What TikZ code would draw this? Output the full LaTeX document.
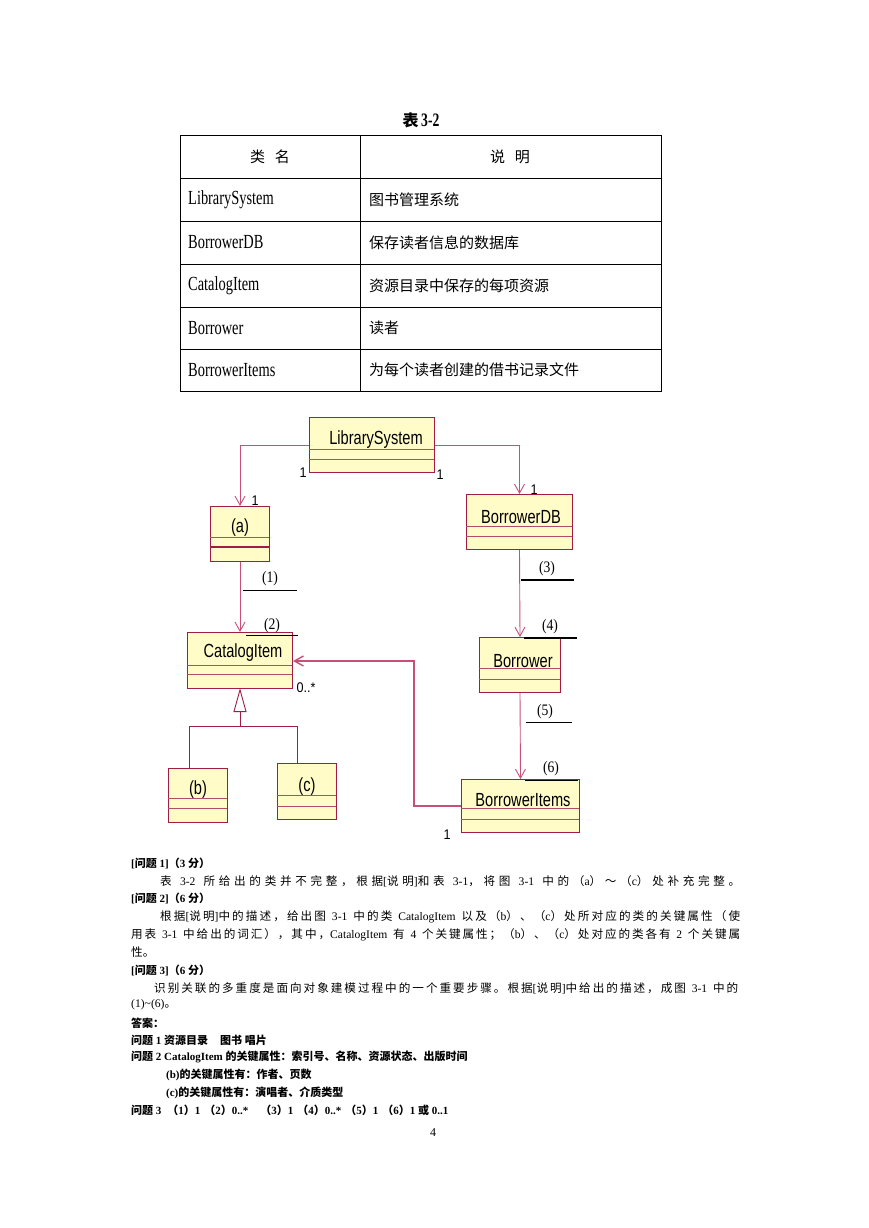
\documentclass[tikz,border=0pt]{standalone}
\usepackage{fontspec}
\usetikzlibrary{arrows.meta}
\setmainfont{Liberation Serif}
\newfontfamily\cjk{Noto Sans CJK SC}
\newfontfamily\narrowserif{Liberation Serif}[FakeStretch=0.72]
\newfontfamily\umlfont{Liberation Sans}[FakeStretch=0.77]
\newfontfamily\multfont{Liberation Sans}[FakeStretch=0.9]
\newfontfamily\labserif{Liberation Serif}[FakeStretch=0.85]
\def\savedfnt{}
\newif\ifincjk
\XeTeXinterchartokenstate=1
\newXeTeXintercharclass\CJKcls
\newcount\cjkc
\def\setcjkrange#1#2{\cjkc=#1 \loop\XeTeXcharclass\cjkc=\CJKcls\ifnum\cjkc<#2 \advance\cjkc by 1 \repeat}
\setcjkrange{"3000}{"303F}
\setcjkrange{"4E00}{"9FFF}
\setcjkrange{"FF00}{"FFEF}
\def\tocjk{\ifincjk\else\edef\savedfnt{\the\font}\cjk\incjktrue\fi}
\def\fromcjk{\ifincjk\savedfnt\incjkfalse\fi}
\XeTeXinterchartoks 0 \CJKcls = {\tocjk}
\XeTeXinterchartoks 4095 \CJKcls = {\tocjk}
\XeTeXinterchartoks \CJKcls 0 = {\fromcjk}
\XeTeXinterchartoks \CJKcls 4095 = {\fromcjk}
\XeTeXinterchartoks \CJKcls \CJKcls = {\hskip 0pt plus 1pt}
\definecolor{umlred}{RGB}{160,30,70}
\definecolor{umlfill}{RGB}{255,252,200}
\definecolor{conn}{RGB}{200,80,120}
\begin{document}
\begin{tikzpicture}[x=1pt,y=-1pt,
  umlbox/.style={draw=umlred, fill=umlfill, line width=1pt, inner sep=0, anchor=north west},
  comp/.style={draw=umlred!80, line width=0.8pt},
  umltext/.style={inner sep=0, font=\fontsize{19}{22}\umlfont},
  mult/.style={inner sep=0, font=\fontsize{14}{16}\multfont},
  lab/.style={inner sep=0, font=\fontsize{16}{18}\labserif},
  uline/.style={draw=black, line width=0.8pt},
  tuline/.style={draw=black, line width=2.4pt},
  assoc/.style={draw=conn, line width=0.9pt, -{Straight Barb[length=9pt,width=10pt]}},
  genl/.style={draw=umlred, line width=0.9pt},
  tline/.style={draw=black, line width=0.8pt},
  tlat/.style={inner sep=0, anchor=west, font=\fontsize{20}{22}\narrowserif},
  tcjk/.style={inner sep=0, anchor=west, font=\fontsize{15}{18}\selectfont},
  bodyl/.style={inner sep=0, anchor=west, font=\fontsize{11.6}{13}\selectfont},
  boldl/.style={inner sep=0, anchor=west, font=\fontsize{11}{13}\bfseries}
]
\useasboundingbox[fill=white] (0,0) rectangle (869,1228);

% ---------- Table 3-2 ----------
\node[inner sep=0, font=\fontsize{16}{18}\bfseries] (title) at (421,120) {表\,{\narrowserif\fontsize{19}{20}\selectfont 3-2}};
\draw[tline] (180,135) rectangle (661,391);
\draw[tline] (360,135) -- (360,391);
\foreach \yy in {178,221,264,307,349} \draw[tline] (180,\yy) -- (661,\yy);
\node[inner sep=0, font=\fontsize{15}{18}\selectfont] (h1) at (270,157) {类\hspace{10pt}名};
\node[inner sep=0, font=\fontsize{15}{18}\selectfont] (h2) at (510,157) {说\hspace{10pt}明};
\node[tlat] (r1a) at (188,199.5) {LibrarySystem};
\node[tcjk] (r1b) at (369,199.5) {图书管理系统};
\node[tlat] (r2a) at (188,242.5) {BorrowerDB};
\node[tcjk] (r2b) at (369,242.5) {保存读者信息的数据库};
\node[tlat] (r3a) at (188,285.5) {CatalogItem};
\node[tcjk] (r3b) at (369,285.5) {资源目录中保存的每项资源};
\node[tlat] (r4a) at (188,328) {Borrower};
\node[tcjk] (r4b) at (369,328) {读者};
\node[tlat] (r5a) at (188,370) {BorrowerItems};
\node[tcjk] (r5b) at (369,370) {为每个读者创建的借书记录文件};

% ---------- UML boxes ----------
\node[umlbox, minimum width=125, minimum height=55] (ls) at (309,417) {};
\draw[comp] (309,449) -- (434,449); \draw[comp] (309,459) -- (434,459);
\node[umltext] (lsT) at (376,440) {LibrarySystem};

\node[umlbox, minimum width=59, minimum height=55] (a) at (210,506) {};
\draw[comp] (210,537) -- (269,537); \draw[draw=umlred, line width=2pt] (210,547) -- (269,547);
\node[umltext] (aT) at (240,528) {(a)};

\node[umlbox, minimum width=106, minimum height=55] (bdb) at (466,494) {};
\draw[comp] (466,526) -- (572,526); \draw[comp] (466,536) -- (572,536);
\node[umltext] (bdbT) at (521,517) {BorrowerDB};

\node[umlbox, minimum width=105, minimum height=56] (ci) at (187,632) {};
\draw[comp] (187,665) -- (292,665); \draw[comp] (187,674) -- (292,674);
\node[umltext] (ciT) at (243,653) {CatalogItem};

\node[umlbox, minimum width=81, minimum height=55] (bor) at (479,637) {};
\draw[comp] (479,668) -- (560,668); \draw[comp] (479,679) -- (560,679);
\node[umltext] (borT) at (523,661) {Borrower};

\node[umlbox, minimum width=59, minimum height=54] (b) at (168,768) {};
\draw[comp] (168,798) -- (227,798); \draw[comp] (168,808) -- (227,808);
\node[umltext] (bT) at (198,790) {(b)};

\node[umlbox, minimum width=59, minimum height=56] (c) at (277,763) {};
\draw[comp] (277,795) -- (336,795); \draw[comp] (277,806) -- (336,806);
\node[umltext] (cT) at (307,787) {(c)};

\node[umlbox, minimum width=118, minimum height=53] (bi) at (461,779) {};
\draw[comp] (461,808) -- (579,808); \draw[comp] (461,819) -- (579,819);
\node[umltext] (biT) at (523,800) {BorrowerItems};

% ---------- connectors ----------
\draw[assoc] (ls.west) -| (a.north);
\draw[assoc] (ls.east) -| (bdb.north);
\draw[assoc] (a.south) -- (ci.north);
\draw[assoc] (bdb.south) -- (bor.north);
\draw[assoc] (bor.south) -- (bi.north);
\coordinate (bend) at (414,661);
\draw[assoc, line width=1.4pt] (bi.west) -| (bend) -- (ci.east |- bend);

\coordinate (gen) at (240,726);
\coordinate (bin) at (189,768);
\coordinate (cin) at (297,763);
\draw[genl] (bin) |- (gen);
\draw[genl] (cin) |- (gen);
\draw[genl, -{Triangle[open, length=24pt, width=13pt, fill=white]}] (gen) -- (240,688);

% ---------- multiplicities ----------
\node[mult] (m1) at (303,473) {1};
\node[mult] (m2) at (255,501) {1};
\node[mult] (m3) at (440,475) {1};
\node[mult] (m4) at (534,490) {1};
\node[mult] (m5) at (306,688) {0..*};
\node[mult] (m6) at (447,835) {1};

% ---------- blanks (1)-(6) ----------
\node[lab] (l1) at (270,579) {(1)};
\draw[uline] (243,590) -- (297,590);
\node[lab] (l2) at (272,626) {(2)};
\draw[uline] (246,635) -- (298,635);
\node[lab] (l3) at (547,569) {(3)};
\draw[tuline] (521,580) -- (574,580);
\node[lab] (l4) at (550,627) {(4)};
\draw[tuline] (524,638) -- (577,638);
\node[lab] (l5) at (545,712) {(5)};
\draw[uline] (526,722) -- (572,722);
\node[lab] (l6) at (551,769) {(6)};
\draw[uline] (525,780) -- (578,780);

% ---------- text below ----------
\node[boldl] (q1) at (131,863) {[问题 1]（3 分）};
\node[bodyl] (q1t) at (160,881) {\makebox[580pt][s]{表 3-2 所给出的类并不完整，根据[说明]和表 3-1，将图 3-1 中的（a）～（c）处补充完整。}};
\node[boldl] (q2) at (131,898) {[问题 2]（6 分）};
\node[bodyl] (q2a) at (160,917) {\makebox[580pt][s]{根据[说明]中的描述，给出图 3-1 中的类 CatalogItem 以及（b）、（c）处所对应的类的关键属性（使}};
\node[bodyl] (q2b) at (131,935) {\makebox[609pt][s]{用表 3-1 中给出的词汇），其中，CatalogItem 有 4 个关键属性；（b）、（c）处对应的类各有 2 个关键属}};
\node[bodyl] (q2c) at (131,952) {性。};
\node[boldl] (q3) at (131,970) {[问题 3]（6 分）};
\node[bodyl] (q3a) at (154,988) {\makebox[584pt][s]{识别关联的多重度是面向对象建模过程中的一个重要步骤。根据[说明]中给出的描述，成图 3-1 中的}};
\node[bodyl] (q3b) at (131,1005) {(1)\textasciitilde(6)。};
\node[boldl] (ans) at (131,1023) {答案：};
\node[boldl] (a1) at (131,1040) {问题 1 资源目录\hspace{12pt}图书 唱片};
\node[boldl] (a2) at (131,1057) {问题 2 CatalogItem 的关键属性：索引号、名称、资源状态、出版时间};
\node[boldl] (a2b) at (166,1075) {(b)的关键属性有：作者、页数};
\node[boldl] (a2c) at (166,1093) {(c)的关键属性有：演唱者、介质类型};
\node[boldl] (a3) at (131,1110) {问题 3\hspace{6pt}（1）1\hspace{4pt}（2）0..*\hspace{12pt}（3）1\hspace{4pt}（4）0..*\hspace{4pt}（5）1\hspace{4pt}（6）1 或 0..1};
\node[inner sep=0, font=\fontsize{12}{14}\selectfont] (pg) at (433,1133) {4};
\end{tikzpicture}
\end{document}
